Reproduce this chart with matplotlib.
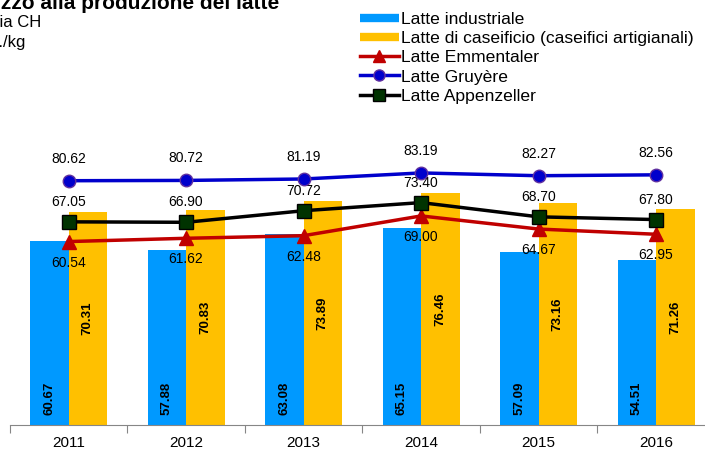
import numpy as np
import matplotlib
matplotlib.use("Agg")
import matplotlib.pyplot as plt
from matplotlib.lines import Line2D

plt.rcParams['font.family'] = ['Liberation Sans', 'DejaVu Sans']

years = ['2011', '2012', '2013', '2014', '2015', '2016']
industriale = [60.67, 57.88, 63.08, 65.15, 57.09, 54.51]
caseificio = [70.31, 70.83, 73.89, 76.46, 73.16, 71.26]
emmentaler = [60.54, 61.62, 62.48, 69.00, 64.67, 62.95]
gruyere = [80.62, 80.72, 81.19, 83.19, 82.27, 82.56]
appenzeller = [67.05, 66.90, 70.72, 73.40, 68.70, 67.80]

BLUE = '#0099FF'
ORANGE = '#FFC000'
RED = '#C00000'
DBLUE = '#0000CC'

W, H = 705, 450
fig = plt.figure(figsize=(W / 100, H / 100), dpi=100)
ax = fig.add_axes([9.8 / W, 25 / H, 705 / W, 303 / H])

x = np.arange(len(years))
bw = 0.328
b1 = ax.bar(x - bw / 2, industriale, bw, color=BLUE, zorder=2)
b2 = ax.bar(x + bw / 2, caseificio, bw, color=ORANGE, zorder=2)

# etichette delle barre (verticali, grassetto)
for xi, v in zip(x, industriale):
    ax.annotate(f'{v:.2f}', (xi - bw / 2, 0), xytext=(0, 10), textcoords='offset pixels',
                rotation=90, ha='center', va='bottom', fontsize=9.5, fontweight='bold')
for xi, v in zip(x, caseificio):
    ax.text(xi + bw / 2, v / 2, f'{v:.2f}', rotation=90, ha='center', va='center',
            fontsize=9.5, fontweight='bold')

ax.plot(x, emmentaler, color=RED, lw=2.5, marker='^', ms=10, mfc=RED, mec=RED, zorder=4)
ax.plot(x, gruyere, color=DBLUE, lw=2.5, marker='o', ms=9, mfc=DBLUE, mec='#6030A0', zorder=4)
ax.plot(x, appenzeller, color='black', lw=2.5, marker='s', ms=10, mfc='#003300', mec='black', zorder=5)

for xi, v in zip(x, gruyere):
    ax.annotate(f'{v:.2f}', (xi, v), xytext=(0, 22), textcoords='offset pixels',
                ha='center', va='center', fontsize=10)
for xi, v in zip(x, appenzeller):
    ax.annotate(f'{v:.2f}', (xi, v), xytext=(0, 20), textcoords='offset pixels',
                ha='center', va='center', fontsize=10)
for xi, v in zip(x, emmentaler):
    ax.annotate(f'{v:.2f}', (xi, v), xytext=(0, -21), textcoords='offset pixels',
                ha='center', va='center', fontsize=10)

ax.set_xlim(-0.5, len(years) - 0.5)
ax.set_ylim(0, 100)
ax.set_yticks([])
for s in ['left', 'right', 'top']:
    ax.spines[s].set_visible(False)
ax.spines['bottom'].set_color('#868686')
ax.set_xticks(np.arange(len(years) + 1) - 0.5)
ax.set_xticklabels([])
ax.tick_params(axis='x', which='major', length=6, color='#868686')
ax.set_xticks(x, minor=True)
ax.set_xticklabels(years, minor=True, fontsize=11)
ax.tick_params(axis='x', which='minor', length=0, pad=8)

handles = [
    Line2D([], [], color=BLUE, lw=6, solid_capstyle='butt'),
    Line2D([], [], color=ORANGE, lw=6, solid_capstyle='butt'),
    Line2D([], [], color=RED, lw=2.5, marker='^', ms=9, mfc=RED, mec=RED),
    Line2D([], [], color=DBLUE, lw=2.5, marker='o', ms=8, mfc=DBLUE, mec='#6030A0'),
    Line2D([], [], color='black', lw=2.5, marker='s', ms=8, mfc='#003300', mec='black'),
]
labels = ['Latte industriale', 'Latte di caseificio (caseifici artigianali)',
          'Latte Emmentaler', 'Latte Gruyère', 'Latte Appenzeller']
fig.legend(handles, labels, loc='upper left', bbox_to_anchor=(360 / W, 1 - 12 / H),
           frameon=False, fontsize=12.6, handlelength=2.2, handletextpad=0.15,
           labelspacing=0.22, borderpad=0, borderaxespad=0)

fig.text(-33 / W, 1 - 9 / H, 'Prezzo alla produzione del latte', fontsize=15,
         fontweight='bold', ha='left', va='baseline')
fig.text(-33 / W, 1 - 27 / H, 'Media CH', fontsize=12, ha='left', va='baseline')
fig.text(-33 / W, 1 - 47 / H, 'cent./kg', fontsize=12, ha='left', va='baseline')

fig.savefig('out.png', dpi=100)
